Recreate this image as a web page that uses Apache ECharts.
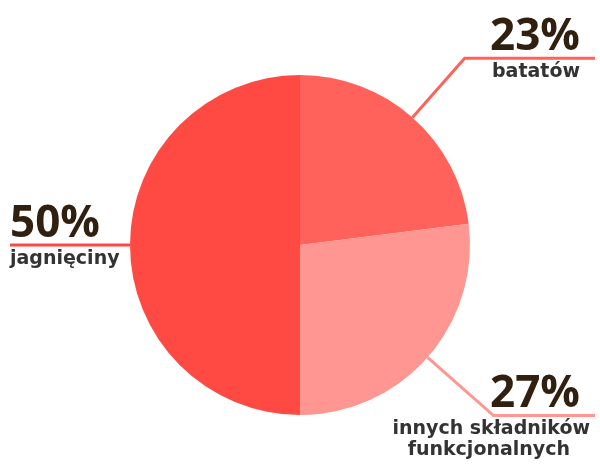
<!DOCTYPE html>
<html><head><meta charset="utf-8">
<script src="https://cdn.jsdelivr.net/npm/echarts@6/dist/echarts.min.js"></script>
<style>html,body{margin:0;padding:0;background:#fff}#c{width:600px;height:474px}</style>
</head><body><div id="c"></div>
<script>
const categories = ['batatów', 'innych składników\nfunkcjonalnych', 'jagnięciny'];
const values = [23, 27, 50];
const percentLabels = ['23%', '27%', '50%'];
const colors = ['#ff625b', '#ff9691', '#ff4a44'];
const lineLengths = [79, 88, 60];
const nameStyles = [['n'], ['a', 'b'], ['n']];

const PFONT = '"Open Sans", sans-serif';
const NFONT = '"DejaVu Sans", sans-serif';
const chart = echarts.init(document.getElementById('c'), null, {renderer: 'canvas'});
const W = chart.getWidth();
const data = categories.map((name, i) => ({
  name: name,
  value: values[i],
  itemStyle: {color: colors[i]},
  labelLine: {length: lineLengths[i], length2: 10, lineStyle: {color: colors[i], width: 3}},
  label: {formatter: '{p|' + percentLabels[i] + '}\n' +
    name.split('\n').map((s, j) => '{' + nameStyles[i][j] + '|' + s + '}').join('\n')}
}));
const nameBase = {fontFamily: NFONT, fontWeight: 'bold', fontSize: 19, color: '#333333'};
chart.setOption({
  animation: false,
  series: [{
    type: 'pie',
    center: [300, 245],
    radius: [0, 170],
    startAngle: 90,
    clockwise: true,
    data: data,
    label: {
      show: true,
      position: 'outer',
      alignTo: 'none',
      overflow: 'none',
      rich: {
        p: {fontFamily: PFONT, fontWeight: 'bold', fontSize: 44, lineHeight: 48, color: '#31200f', padding: [0, 10, 0, 0]},
        n: Object.assign({lineHeight: 22, padding: [0, 10, 0, 0]}, nameBase),
        a: Object.assign({lineHeight: 21, padding: [0, 0, 0, 0]}, nameBase),
        b: Object.assign({lineHeight: 21, padding: [0, 20, 0, 0]}, nameBase)
      }
    },
    labelLayout: function (params) {
      const pts = params.labelLinePoints;
      if (!pts) return {};
      const isLeft = pts[1][0] < pts[0][0];
      const y = pts[1][1];
      const endX = isLeft ? 10 : W - 5;
      return {
        x: isLeft ? 10 : W - 10,
        align: isLeft ? 'left' : 'right',
        y: y - 45,
        verticalAlign: 'top',
        labelLinePoints: [pts[0], pts[1], [endX, y]]
      };
    }
  }]
});
</script></body></html>
